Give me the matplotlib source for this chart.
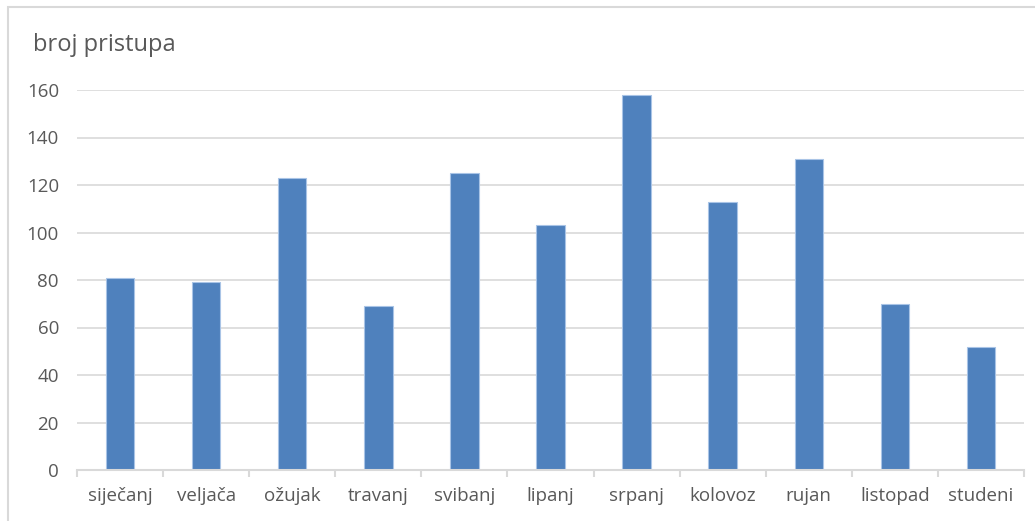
import matplotlib
matplotlib.use("Agg")
import matplotlib.pyplot as plt
from matplotlib.patches import Rectangle
import numpy as np

months = ["siječanj", "veljača", "ožujak", "travanj", "svibanj", "lipanj",
          "srpanj", "kolovoz", "rujan", "listopad", "studeni"]
visits = [81, 79, 123, 69, 125, 103, 158, 113, 131, 70, 52]
yticks = [0, 20, 40, 60, 80, 100, 120, 140, 160]
title = "broj pristupa"

plt.rcParams['font.family'] = ['Open Sans', 'DejaVu Sans']

W, H = 1035, 521
fig = plt.figure(figsize=(W / 100, H / 100), dpi=100)
fig.patch.set_facecolor("white")

# chart border (extends beyond right/bottom)
fig.add_artist(Rectangle((8 / W, -0.1), 1.2, 1 - 7 / H + 0.1,
                         transform=fig.transFigure, fill=False,
                         edgecolor="#D9D9D9", linewidth=1.5))

ax = fig.add_axes([77 / W, 1 - 470 / H, (1024 - 77) / W, (470 - 90) / H])
x = np.arange(len(months))
ax.bar(x, visits, width=0.33, color="#4F81BD", edgecolor="#A9C4E6",
       linewidth=0.8, zorder=3)

ax.set_xlim(-0.5, len(months) - 0.5)
ax.set_ylim(0, 160)
ax.set_yticks(yticks)
ax.set_xticks(x)
ax.set_xticklabels(months)
ax.set_xticks(np.arange(len(months) + 1) - 0.5, minor=True)

for s in ["top", "right", "left"]:
    ax.spines[s].set_visible(False)
ax.spines["bottom"].set_color("#D9D9D9")
ax.spines["bottom"].set_linewidth(1.5)
ax.spines["bottom"].set_zorder(4)

ax.yaxis.grid(True, color="#D9D9D9", linewidth=1.2, zorder=0)
ax.set_axisbelow(True)

ax.tick_params(axis="y", length=0, pad=13, labelsize=13.5, labelcolor="#595959")
ax.tick_params(axis="x", which="major", length=0, pad=12, labelsize=13.5,
               labelcolor="#595959")
ax.tick_params(axis="x", which="minor", length=5, width=1.5, color="#D9D9D9")

fig.text(33 / W, 1 - 45 / H, title, fontsize=17, color="#595959",
         ha="left", va="center")

fig.savefig("out.png", dpi=100, facecolor="white")
